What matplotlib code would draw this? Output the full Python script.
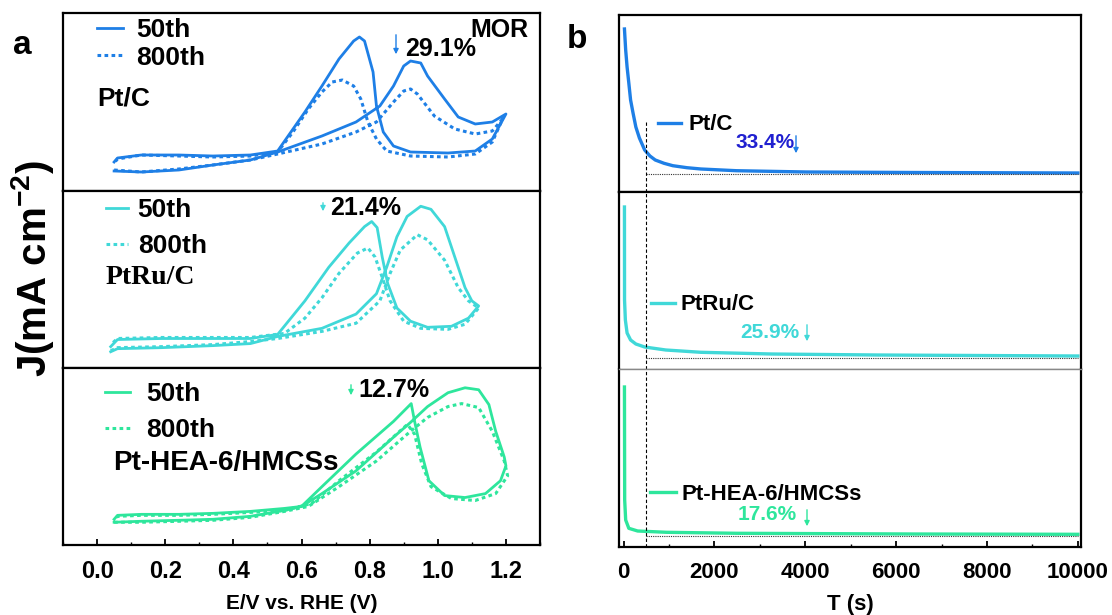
import matplotlib
matplotlib.use('Agg')
import matplotlib.pyplot as plt
from matplotlib.ticker import MultipleLocator

plt.rcParams['font.family'] = ['Liberation Sans', 'DejaVu Sans']
plt.rcParams['font.weight'] = 'bold'
plt.rcParams['axes.labelweight'] = 'bold'
plt.rcParams['mathtext.fontset'] = 'custom'
plt.rcParams['mathtext.rm'] = 'Liberation Sans:bold'
plt.rcParams['mathtext.it'] = 'Liberation Sans:bold'
plt.rcParams['mathtext.bf'] = 'Liberation Sans:bold'

# ---- data: CV loops (forward scan then backward scan), E in V, j in mA cm-2 ----
ptc_50_e = [0.05, 0.13, 0.24, 0.34, 0.45, 0.53, 0.66, 0.76, 0.83, 0.87, 0.90, 0.92, 0.95, 0.97, 1.02, 1.06, 1.11, 1.16, 1.20,
            1.16, 1.11, 1.03, 0.92, 0.87, 0.84, 0.82, 0.81, 0.785, 0.77, 0.753, 0.71, 0.66, 0.61, 0.53, 0.45, 0.34, 0.24, 0.13, 0.06, 0.05]
ptc_50_j = [0.19, 0.18, 0.20, 0.25, 0.30, 0.38, 0.54, 0.68, 0.84, 1.04, 1.24, 1.29, 1.27, 1.14, 0.91, 0.73, 0.66, 0.68, 0.76,
            0.51, 0.39, 0.37, 0.38, 0.44, 0.58, 0.84, 1.18, 1.49, 1.53, 1.49, 1.31, 1.04, 0.78, 0.39, 0.35, 0.34, 0.35, 0.35, 0.32, 0.28]
ptc_800_e = [0.05, 0.13, 0.24, 0.34, 0.45, 0.53, 0.66, 0.76, 0.82, 0.87, 0.90, 0.92, 0.94, 0.99, 1.05, 1.11, 1.16, 1.19,
             1.16, 1.11, 1.03, 0.92, 0.85, 0.82, 0.795, 0.774, 0.753, 0.72, 0.69, 0.66, 0.62, 0.575, 0.53, 0.45, 0.34, 0.24, 0.13, 0.06, 0.05]
ptc_800_j = [0.20, 0.18, 0.21, 0.25, 0.30, 0.36, 0.46, 0.58, 0.68, 0.88, 0.99, 1.01, 0.96, 0.74, 0.61, 0.56, 0.59, 0.71,
             0.48, 0.36, 0.33, 0.34, 0.39, 0.51, 0.68, 0.91, 1.04, 1.10, 1.08, 0.98, 0.81, 0.58, 0.38, 0.34, 0.33, 0.34, 0.35, 0.31, 0.27]

ptru_50_e = [0.04, 0.06, 0.19, 0.34, 0.45, 0.53, 0.66, 0.76, 0.82, 0.85, 0.88, 0.91, 0.95, 0.98, 1.02, 1.05, 1.08, 1.10, 1.12,
             1.09, 1.04, 0.97, 0.92, 0.88, 0.853, 0.837, 0.822, 0.806, 0.785, 0.74, 0.68, 0.61, 0.53, 0.45, 0.34, 0.19, 0.06, 0.04]
ptru_50_j = [0.17, 0.20, 0.21, 0.23, 0.25, 0.32, 0.40, 0.54, 0.74, 1.00, 1.30, 1.50, 1.60, 1.57, 1.40, 1.10, 0.80, 0.67, 0.62,
             0.50, 0.42, 0.41, 0.47, 0.60, 0.84, 1.10, 1.39, 1.45, 1.40, 1.24, 1.00, 0.67, 0.34, 0.30, 0.30, 0.30, 0.29, 0.22]
ptru_800_e = [0.04, 0.06, 0.19, 0.34, 0.45, 0.53, 0.66, 0.76, 0.83, 0.86, 0.89, 0.94, 0.97, 1.02, 1.06, 1.09, 1.12,
              1.08, 1.03, 0.95, 0.90, 0.86, 0.837, 0.816, 0.795, 0.764, 0.71, 0.66, 0.61, 0.55, 0.45, 0.34, 0.19, 0.06, 0.04]
ptru_800_j = [0.18, 0.21, 0.22, 0.24, 0.27, 0.30, 0.37, 0.45, 0.67, 0.94, 1.17, 1.32, 1.27, 1.07, 0.80, 0.67, 0.60,
              0.44, 0.39, 0.40, 0.47, 0.67, 0.90, 1.10, 1.19, 1.14, 0.94, 0.70, 0.50, 0.35, 0.31, 0.31, 0.31, 0.30, 0.24]

hea_50_e = [0.05, 0.13, 0.24, 0.34, 0.45, 0.55, 0.60, 0.66, 0.76, 0.87, 0.92, 0.97, 1.03, 1.08, 1.12, 1.15, 1.17, 1.195, 1.20,
            1.184, 1.14, 1.08, 1.02, 0.974, 0.948, 0.932, 0.922, 0.87, 0.76, 0.66, 0.60, 0.55, 0.45, 0.34, 0.24, 0.13, 0.06, 0.05]
hea_50_j = [0.23, 0.24, 0.25, 0.26, 0.29, 0.35, 0.39, 0.52, 0.75, 1.09, 1.24, 1.40, 1.54, 1.59, 1.57, 1.42, 1.15, 0.89, 0.80,
            0.65, 0.52, 0.48, 0.50, 0.65, 0.99, 1.25, 1.43, 1.25, 0.92, 0.59, 0.39, 0.37, 0.34, 0.32, 0.31, 0.31, 0.30, 0.26]
hea_800_e = [0.05, 0.13, 0.24, 0.34, 0.45, 0.55, 0.62, 0.71, 0.82, 0.92, 0.97, 1.03, 1.07, 1.12, 1.16, 1.195, 1.205,
             1.17, 1.11, 1.04, 0.98, 0.953, 0.932, 0.911, 0.82, 0.71, 0.63, 0.55, 0.45, 0.34, 0.24, 0.13, 0.06, 0.05]
hea_800_j = [0.23, 0.23, 0.24, 0.25, 0.28, 0.34, 0.39, 0.59, 0.85, 1.15, 1.29, 1.40, 1.43, 1.39, 1.15, 0.85, 0.70,
             0.52, 0.45, 0.47, 0.59, 0.82, 1.12, 1.22, 0.94, 0.65, 0.42, 0.35, 0.33, 0.31, 0.30, 0.30, 0.29, 0.25]

# ---- data: chronoamperometry, t in s ----
ca_ptc_t = [20, 47, 78, 116, 155, 209, 271, 349, 465, 581, 698, 891, 1085, 1395, 1705, 2481, 4031, 6357, 10000]
ca_ptc_j = [1.63, 1.42, 1.25, 1.09, 0.92, 0.79, 0.65, 0.54, 0.42, 0.36, 0.32, 0.287, 0.263, 0.243, 0.23, 0.213, 0.20, 0.195, 0.19]
ca_ptru_t = [20, 22, 40, 78, 155, 271, 465, 930, 1705, 3256, 5581, 10000]
ca_ptru_j = [1.62, 0.69, 0.49, 0.36, 0.29, 0.25, 0.22, 0.19, 0.167, 0.15, 0.14, 0.13]
ca_hea_t = [20, 25, 47, 116, 310, 946, 2496, 6372, 10000]
ca_hea_j = [1.60, 0.47, 0.27, 0.187, 0.16, 0.147, 0.137, 0.13, 0.127]
ca_ref_j = [0.183, 0.107, 0.11]
t_ref = 500

names = ['Pt/C', 'PtRu/C', 'Pt-HEA-6/HMCSs']
cv_loss = ['29.1%', '21.4%', '12.7%']
ca_loss = ['33.4%', '25.9%', '17.6%']
colors = ['#1e7fe6', '#40d8d8', '#2ee69c']
ca_loss_colors = ['#2020d0', '#40d8d8', '#2ee69c']

W, H = 1112, 615
fig = plt.figure(figsize=(W / 100, H / 100), dpi=100)


def rect(x0, y0, x1, y1):
    return [x0 / W, 1 - y1 / H, (x1 - x0) / W, (y1 - y0) / H]


def fp(x, y):
    return (x / W, 1 - y / H)


dotted = (0, (1.2, 1.1))

# ---------------- panel a ----------------
left_rects = [(63, 13, 540, 191), (63, 191, 540, 368), (63, 368, 540, 545)]
cv_ylims = [(-0.01, 1.77), (0.01, 1.75), (0.0, 1.79)]
cv_data = [(ptc_50_e, ptc_50_j, ptc_800_e, ptc_800_j),
           (ptru_50_e, ptru_50_j, ptru_800_e, ptru_800_j),
           (hea_50_e, hea_50_j, hea_800_e, hea_800_j)]
leg_pos = [(97, 44, 1.0, 0.5, 0.12), (106, 228, 0.85, 0.35, 0.45), (105, 412, 0.95, 0.6, 0.45)]

left_axes = []
for i in range(3):
    ax = fig.add_axes(rect(*left_rects[i]))
    e50, j50, e800, j800 = cv_data[i]
    l1, = ax.plot(e50, j50, color=colors[i], lw=2.0, solid_joinstyle='round')
    l2, = ax.plot(e800, j800, color=colors[i], lw=2.2, linestyle=dotted)
    ax.set_xlim(-0.1, 1.3)
    ax.set_ylim(*cv_ylims[i])
    ax.set_yticks([])
    ax.xaxis.set_major_locator(MultipleLocator(0.2))
    ax.xaxis.set_minor_locator(MultipleLocator(0.1))
    ax.tick_params(axis='x', which='major', direction='in', length=4, width=1.3, pad=11, labelsize=17)
    ax.tick_params(axis='x', which='minor', direction='in', length=2, width=1.0)
    if i < 2:
        ax.tick_params(axis='x', which='both', bottom=False, labelbottom=False)
    for s in ax.spines.values():
        s.set_linewidth(1.6)
    lx, ly, hl, hp, ls = leg_pos[i]
    ax.legend([l1, l2], ['50th', '800th'], loc='center left', bbox_to_anchor=fp(lx, ly),
              bbox_transform=fig.transFigure, frameon=False, borderpad=0, borderaxespad=0,
              handlelength=hl, handletextpad=hp, labelspacing=ls, fontsize=19)
    left_axes.append(ax)

left_axes[2].set_xticklabels([f'{v:.1f}' for v in left_axes[2].get_xticks()])
left_axes[2].set_xlabel('E/V vs. RHE (V)', fontsize=15, labelpad=8)

fig.text(*fp(97, 98), names[0], fontsize=19, va='center', ha='left')
fig.text(*fp(106, 278), names[1], fontsize=20, va='center', ha='left',
         family=['Liberation Serif', 'DejaVu Serif'])
fig.text(*fp(113, 463), names[2], fontsize=20, va='center', ha='left')
fig.text(*fp(528, 30), 'MOR', fontsize=18, va='center', ha='right')

cv_loss_pos = [(405, 49), (330, 208), (358, 390)]
cv_arrows = [(396, 32, 57), (323, 200, 214), (351, 382, 398)]
for i in range(3):
    fig.text(*fp(*cv_loss_pos[i]), cv_loss[i], fontsize=18, va='center', ha='left')
    ax_, y0, y1 = cv_arrows[i]
    fig.add_artist(matplotlib.patches.FancyArrowPatch(fp(ax_, y0), fp(ax_, y1), transform=fig.transFigure,
                                                      arrowstyle='-|>,head_length=3,head_width=1.5',
                                                      color=colors[i], lw=1.0))

fig.text(*fp(33, 268), r'J(mA cm$^{-2}$)', fontsize=29, rotation=90, va='center', ha='center')
fig.text(*fp(22, 45), 'a', fontsize=24, va='center', ha='center')
fig.text(*fp(577, 40), 'b', fontsize=24, va='center', ha='center')

# ---------------- panel b ----------------
right_rects = [(619, 15, 1081, 192), (619, 192, 1081, 369), (619, 369, 1081, 547)]
ca_ylims = [(0, 1.77), (0, 1.77), (0, 1.78)]
ca_data = [(ca_ptc_t, ca_ptc_j), (ca_ptru_t, ca_ptru_j), (ca_hea_t, ca_hea_j)]
vline_top = 0.70
ca_leg = [(658, 125, 1.05, 0.3), (651, 305, 1.1, 0.25), (650, 494, 1.15, 0.25)]
ca_loss_pos = [(735, 143), (740, 333), (738, 515)]
ca_arrows = [(796, 133, 156), (807, 322, 344), (807, 507, 529)]

right_axes = []
for i in range(3):
    ax = fig.add_axes(rect(*right_rects[i]))
    t, j = ca_data[i]
    ln, = ax.plot(t, j, color=colors[i], lw=2.4, solid_joinstyle='round')
    ax.hlines(ca_ref_j[i], t_ref, 10000, colors='#333333', lw=0.8, linestyles=(0, (1, 1)))
    if i == 0:
        ax.vlines(t_ref, 0, vline_top, colors='black', lw=0.8, linestyles=(0, (3, 2)))
    else:
        ax.axvline(t_ref, color='black', lw=0.8, linestyle=(0, (3, 2)))
    ax.set_xlim(-100, 10070)
    ax.set_ylim(*ca_ylims[i])
    ax.set_yticks([])
    ax.xaxis.set_major_locator(MultipleLocator(2000))
    ax.xaxis.set_minor_locator(MultipleLocator(1000))
    ax.tick_params(axis='x', which='major', direction='in', length=4, width=1.3, pad=11, labelsize=16)
    ax.tick_params(axis='x', which='minor', direction='in', length=2, width=1.0)
    if i < 2:
        ax.tick_params(axis='x', which='both', bottom=False, labelbottom=False)
    for s in ax.spines.values():
        s.set_linewidth(1.6)
    lx, ly, hl, hp = ca_leg[i]
    ax.legend([ln], [names[i]], loc='center left', bbox_to_anchor=fp(lx, ly),
              bbox_transform=fig.transFigure, frameon=False, borderpad=0, borderaxespad=0,
              handlelength=hl, handletextpad=hp,
              prop={'family': ['Liberation Sans', 'DejaVu Sans'], 'weight': 'bold', 'size': 16})
    fig.text(*fp(*ca_loss_pos[i]), ca_loss[i], fontsize=15, va='center', ha='left', color=ca_loss_colors[i])
    x_, y0, y1 = ca_arrows[i]
    fig.add_artist(matplotlib.patches.FancyArrowPatch(fp(x_, y0), fp(x_, y1), transform=fig.transFigure,
                                                      arrowstyle='-|>,head_length=3,head_width=1.5',
                                                      color=colors[i], lw=1.0))
    right_axes.append(ax)

right_axes[1].spines['bottom'].set_color('#888888')
right_axes[1].spines['bottom'].set_linewidth(1.0)
right_axes[2].spines['top'].set_color('#888888')
right_axes[2].spines['top'].set_linewidth(1.0)

right_axes[2].set_xticklabels([f'{int(v)}' for v in right_axes[2].get_xticks()])
right_axes[2].set_xlabel('T (s)', fontsize=16, labelpad=8)

fig.savefig('out.png', dpi=100)
